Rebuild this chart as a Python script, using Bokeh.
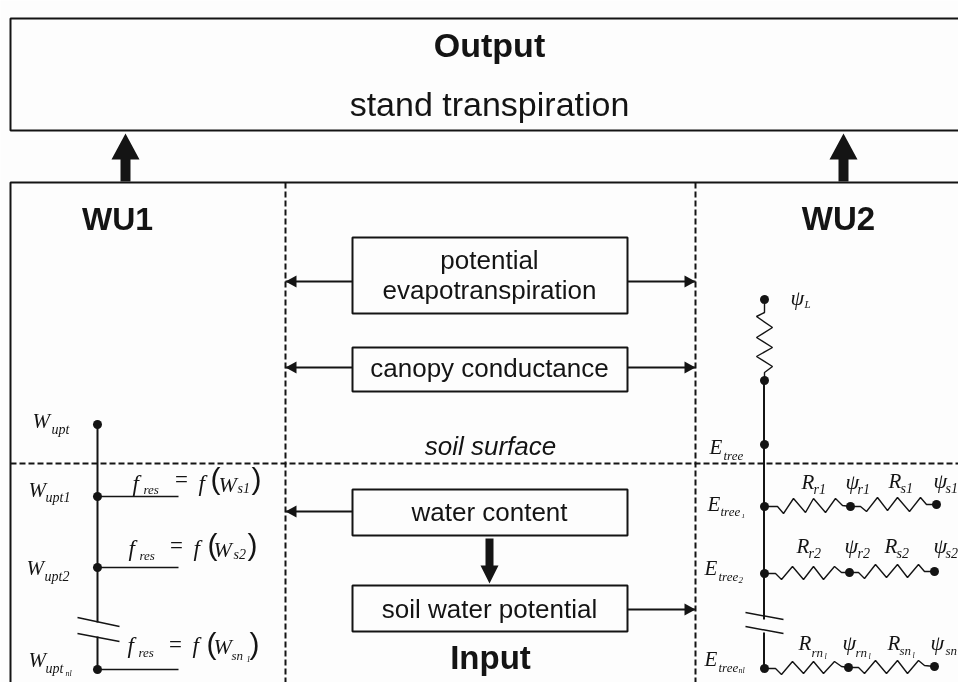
from bokeh.plotting import figure
from bokeh.models import Range1d, ColumnDataSource
from bokeh.embed import file_html
from bokeh.resources import INLINE

INK = "#141414"
# frames: left, right, top, bottom
frame_l = [10, 10]
frame_r = [972, 972]
frame_t = [18, 182]
frame_b = [130, 700]
# inner boxes
box_l = [352, 352, 352, 352]
box_r = [627, 627, 627, 627]
box_t = [237, 347, 489, 585]
box_b = [313, 391, 535, 631]
# dashed separators
dash_xs = [[285, 285], [695, 695], [10, 958]]
dash_ys = [[182, 682], [182, 682], [463, 463]]
# thin connector arrows: shaft start, shaft end, y, tip direction
arrow_x0 = [352, 627, 352, 627, 352, 627]
arrow_x1 = [285, 695, 285, 695, 285, 695]
arrow_y = [281, 281, 367, 367, 511, 609]
# block arrows
big_up_x = [125, 843]
big_up_tip = 133
big_up_neck = 159
big_up_foot = 181
down_x = 489
down_top, down_neck, down_tip = 538, 565, 583
# WU1 ladder
wu1_x = 97
wu1_seg_y = [[424, 622], [636, 669]]
wu1_nodes_y = [424, 496, 567, 669]
wu1_branch_y = [496, 567, 669]
wu1_branch_end = 178
break1_xs = [[77, 119], [77, 119]]
break1_ys = [[617, 626], [633, 641]]
# WU2 ladder
wu2_x = 763.5
wu2_seg_y = [[380, 619], [632, 668]]
wu2_nodes_x = [764, 764, 764, 764, 764, 764, 850, 936, 849, 934, 848, 934]
wu2_nodes_y = [299, 380, 444, 506, 573, 668, 506, 504, 572, 571, 667, 666]
break2_xs = [[745, 783], [745, 783]]
break2_ys = [[612, 619], [626, 633]]
# resistor zigzags
zig_xs = [
    [764, 764, 756, 772, 756, 772, 756, 772, 764, 764],
    [764, 777, 783, 793, 805, 813, 825, 835, 842, 850],
    [850, 860, 866, 877, 887, 897, 909, 920, 926, 936],
    [764, 775, 781, 792, 803, 813, 823, 834, 841, 849],
    [849, 858, 864, 875, 886, 897, 907, 918, 924, 934],
    [764, 775, 781, 792, 803, 813, 823, 834, 841, 848],
    [848, 858, 864, 875, 886, 897, 907, 918, 924, 934],
]
zig_ys = [
    [299, 312, 316, 327, 337, 347, 356, 366, 372, 380],
    [506, 506, 513, 498, 512, 498, 512, 498, 505, 506],
    [506, 506, 511, 497, 510, 497, 511, 497, 504, 504],
    [573, 573, 579, 566, 579, 566, 579, 566, 572, 572],
    [572, 572, 578, 564, 577, 564, 577, 564, 571, 571],
    [668, 668, 674, 661, 673, 661, 673, 661, 666, 667],
    [667, 667, 673, 660, 673, 660, 673, 660, 665, 666],
]
# sans labels
sans_text = ["Output", "stand transpiration", "WU1", "WU2", "potential", "evapotranspiration",
             "canopy conductance", "soil surface", "water content", "soil water potential", "Input"]
sans_x = [489, 489, 117, 838, 489, 489, 489, 490, 489, 489, 490]
sans_y = [57, 116, 231, 231, 269, 299, 377, 455, 521, 618, 670]
sans_px = [34, 34, 32, 33, 26, 26, 26, 26, 26, 26, 33]
sans_style = ["bold", "normal", "bold", "bold", "normal", "normal", "normal", "italic", "normal", "normal", "bold"]
# formula brackets
paren_text = ["(", ")", "(", ")", "(", ")"]
paren_x = [210, 251, 207, 247, 206, 249]
paren_y = [489, 489, 555, 555, 654, 654]
paren_px = [30, 30, 30, 30, 30, 30]
# formula symbols
math_text = ["W", "W", "W", "W",
             "f", "=", "f", "W",
             "f", "=", "f", "W",
             "f", "=", "f", "W",
             "E", "E", "E", "E",
             "ψ",
             "R", "ψ", "R", "ψ", "R", "ψ", "R", "ψ", "R", "ψ", "R", "ψ"]
math_x = [32, 28, 26, 28,
          132, 173, 198, 218,
          128, 168, 193, 213,
          127, 167, 192, 213,
          709, 707, 704, 704,
          790,
          801, 845, 888, 933, 796, 844, 884, 933, 798, 842, 887, 930]
math_y = [428, 497, 575, 667,
          492, 488, 492, 492,
          557, 554, 557, 557,
          654, 653, 654, 654,
          454, 511, 575, 666,
          305,
          489, 489, 488, 488, 553, 553, 553, 553, 650, 650, 650, 650]
math_px = [21, 21, 21, 21,
           23, 23, 23, 22,
           23, 23, 23, 22,
           23, 23, 23, 22,
           21, 21, 21, 21,
           22,
           21, 22, 21, 22, 21, 22, 21, 22, 21, 22, 21, 22]
# formula subscripts
sub_text = ["upt", "upt1", "upt2", "upt", "nl",
            "res", "s1", "res", "s2", "res", "sn", "1",
            "tree", "tree", "1", "tree", "2", "tree", "nl",
            "L",
            "r1", "r1", "s1", "s1", "r2", "r2", "s2", "s2",
            "rn", "l", "rn", "l", "sn", "l", "sn"]
sub_x = [51, 45, 44, 45, 65,
         143, 237, 139, 233, 138, 231, 246,
         723, 720, 741, 718, 738, 718, 738,
         804,
         813, 857, 900, 945, 808, 857, 896, 945,
         811, 824, 855, 868, 899, 912, 945]
sub_y = [434, 502, 581, 673, 676,
         494, 493, 560, 559, 657, 660, 662,
         460, 516, 518, 581, 583, 672, 673,
         308,
         494, 494, 493, 493, 558, 558, 558, 558,
         657, 659, 657, 659, 655, 658, 655]
sub_px = [14, 14, 14, 14, 8,
          13, 14, 13, 14, 13, 13, 8,
          13, 13, 7, 13, 9, 13, 8,
          11,
          14, 14, 14, 14, 14, 14, 14, 14,
          13, 8, 13, 8, 13, 8, 13]

BASE_SHIFT = -0.38  # em, lifts the svg text onto its baseline

p = figure(width=958, height=682, output_backend="svg", toolbar_location=None,
           x_range=Range1d(0, 958), y_range=Range1d(682, 0),
           x_axis_location=None, y_axis_location=None, min_border=0,
           background_fill_color="#fdfdfd", border_fill_color="#fdfdfd", outline_line_color=None)
p.grid.visible = False
p.styles = {"position": "fixed", "left": "0px", "top": "0px"}

p.quad(left=frame_l, right=frame_r, top=frame_t, bottom=frame_b, fill_color=None, line_color=INK, line_width=2)
p.quad(left=box_l, right=box_r, top=box_t, bottom=box_b, fill_color=None, line_color=INK, line_width=2)
p.multi_line(dash_xs, dash_ys, line_color=INK, line_width=2, line_dash="6 3")

p.segment(arrow_x0, arrow_y, arrow_x1, arrow_y, line_color=INK, line_width=2)
head_xs, head_ys = [], []
for x1, y, x0 in zip(arrow_x1, arrow_y, arrow_x0):
    d = 11 if x0 > x1 else -11
    head_xs.append([x1, x1 + d, x1 + d])
    head_ys.append([y, y - 6, y + 6])
p.patches(head_xs, head_ys, fill_color=INK, line_color=None)

up_xs = [[x, x + 14, x + 5, x + 5, x - 5, x - 5, x - 14] for x in big_up_x]
up_ys = [[big_up_tip, big_up_neck, big_up_neck, big_up_foot, big_up_foot, big_up_neck, big_up_neck] for _ in big_up_x]
p.patches(up_xs, up_ys, fill_color=INK, line_color=None)
p.patch([down_x - 4, down_x + 4, down_x + 4, down_x + 9, down_x, down_x - 9, down_x - 4],
        [down_top, down_top, down_neck, down_neck, down_tip, down_neck, down_neck],
        fill_color=INK, line_color=None)

p.multi_line([[wu1_x, wu1_x] for _ in wu1_seg_y], wu1_seg_y, line_color=INK, line_width=2)
p.segment([wu1_x] * 3, wu1_branch_y, [wu1_branch_end] * 3, wu1_branch_y, line_color=INK, line_width=1.5)
p.multi_line(break1_xs, break1_ys, line_color=INK, line_width=1.5)
p.scatter([wu1_x] * 4, wu1_nodes_y, size=9, fill_color=INK, line_color=None)

p.multi_line([[wu2_x, wu2_x] for _ in wu2_seg_y], wu2_seg_y, line_color=INK, line_width=2)
p.multi_line(break2_xs, break2_ys, line_color=INK, line_width=1.5)
p.multi_line(zig_xs, zig_ys, line_color=INK, line_width=1.4)
p.scatter(wu2_nodes_x, wu2_nodes_y, size=9, fill_color=INK, line_color=None)

def table(xs, ys, ts, pxs, **extra):
    d = dict(x=xs, y=ys, t=ts, s=[f"{v}px" for v in pxs], dy=[BASE_SHIFT * v for v in pxs])
    d.update(extra)
    return ColumnDataSource(d)

p.text(x="x", y="y", text="t", y_offset="dy", text_font_size="s", text_font_style="st",
       text_font={"value": "Liberation Sans"}, text_align="center", text_baseline="alphabetic",
       text_color=INK, source=table(sans_x, sans_y, sans_text, sans_px, st=sans_style))
p.text(x="x", y="y", text="t", y_offset="dy", text_font_size="s",
       text_font={"value": "Liberation Sans"}, text_baseline="alphabetic",
       text_color=INK, source=table(paren_x, paren_y, paren_text, paren_px))
p.text(x="x", y="y", text="t", y_offset="dy", text_font_size="s", text_font_style="italic",
       text_font={"value": "Liberation Serif"}, text_baseline="alphabetic",
       text_color=INK, source=table(math_x, math_y, math_text, math_px))
p.text(x="x", y="y", text="t", y_offset="dy", text_font_size="s", text_font_style="italic",
       text_font={"value": "Liberation Serif"}, text_baseline="alphabetic",
       text_color=INK, source=table(sub_x, sub_y, sub_text, sub_px))

open("out.html", "w").write(file_html(p, INLINE))
